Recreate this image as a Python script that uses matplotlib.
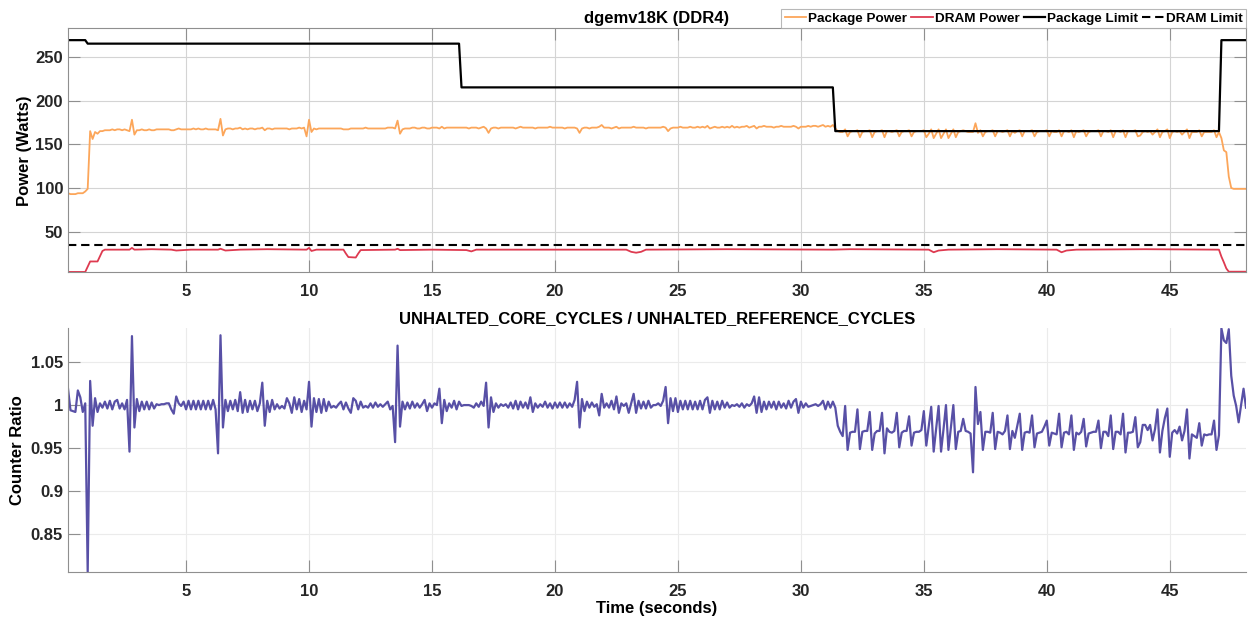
import numpy as np
import matplotlib.pyplot as plt
from matplotlib.ticker import FuncFormatter

plt.rcParams['font.family'] = ['Liberation Sans', 'DejaVu Sans']
plt.rcParams['font.weight'] = 'bold'

# counters are sampled every 0.1 s starting at 0.2 s
t_start = 0.2
t_step = 0.1

# Package power (W), one row per second
pkg_power = [
    94, 93, 93, 93, 94, 94, 94, 96,                      # 0.2 - 0.9
    99, 165, 156, 164, 162, 165, 165, 166, 166, 166,     # 1
    167, 166, 167, 167, 166, 167, 166, 165, 178, 161,    # 2
    166, 166, 167, 166, 166, 167, 166, 166, 167, 167,    # 3
    167, 167, 167, 167, 166, 166, 167, 168, 167, 167,    # 4
    167, 167, 167, 168, 167, 168, 167, 167, 168, 167,    # 5
    167, 167, 167, 166, 179, 160, 167, 168, 168, 167,    # 6
    168, 168, 169, 167, 168, 167, 168, 168, 167, 168,    # 7
    168, 169, 166, 168, 168, 167, 168, 168, 168, 168,    # 8
    168, 168, 167, 168, 168, 168, 169, 168, 169, 159,    # 9
    178, 164, 168, 167, 168, 168, 168, 168, 168, 168,    # 10
    168, 168, 168, 168, 167, 167, 167, 168, 168, 168,    # 11
    168, 168, 168, 169, 168, 168, 168, 168, 168, 168,    # 12
    168, 168, 169, 169, 169, 168, 177, 162, 167, 168,    # 13
    168, 168, 169, 169, 168, 168, 169, 169, 168, 168,    # 14
    169, 169, 169, 168, 170, 168, 169, 169, 169, 169,    # 15
    169, 169, 169, 169, 169, 168, 169, 169, 169, 168,    # 16
    169, 170, 168, 163, 168, 169, 169, 168, 169, 169,    # 17
    169, 169, 169, 169, 168, 169, 170, 169, 169, 169,    # 18
    169, 169, 168, 169, 169, 169, 169, 169, 170, 169,    # 19
    169, 169, 169, 169, 168, 169, 169, 169, 169, 168,    # 20
    163, 168, 169, 169, 168, 169, 169, 169, 170, 172,    # 21
    169, 169, 169, 168, 169, 170, 168, 169, 169, 169,    # 22
    169, 169, 170, 169, 169, 169, 169, 168, 169, 169,    # 23
    169, 169, 169, 169, 170, 169, 165, 168, 169, 169,    # 24
    169, 170, 169, 169, 169, 170, 169, 169, 170, 169,    # 25
    170, 169, 171, 168, 169, 170, 169, 169, 170, 169,    # 26
    170, 169, 171, 169, 170, 169, 170, 170, 171, 169,    # 27
    170, 171, 168, 170, 170, 171, 170, 170, 170, 169,    # 28
    170, 170, 171, 170, 170, 170, 170, 171, 170, 168,    # 29
    170, 170, 170, 171, 170, 171, 171, 170, 171, 172,    # 30
    170, 171, 170, 172, 168, 165, 164, 164, 167, 159,    # 31
    164, 165, 165, 166, 158, 164, 165, 165, 166, 158,    # 32
    164, 165, 165, 166, 158, 165, 165, 164, 165, 166,    # 33
    159, 164, 165, 165, 166, 159, 164, 165, 165, 165,    # 34
    166, 158, 162, 167, 157, 162, 167, 157, 162, 167,    # 35
    157, 162, 167, 158, 164, 165, 166, 165, 164, 164,    # 36
    164, 174, 163, 166, 159, 164, 165, 165, 166, 159,    # 37
    165, 165, 164, 165, 166, 159, 165, 163, 165, 166,    # 38
    159, 165, 165, 165, 166, 159, 164, 165, 165, 165,    # 39
    166, 159, 165, 164, 164, 166, 159, 165, 165, 164,    # 40
    166, 158, 165, 164, 165, 166, 159, 164, 165, 165,    # 41
    165, 166, 159, 165, 165, 164, 166, 158, 165, 165,    # 42
    164, 166, 158, 165, 165, 165, 166, 159, 160, 164,    # 43
    165, 164, 165, 161, 164, 167, 158, 164, 165, 167,    # 44
    157, 164, 165, 164, 165, 161, 164, 167, 157, 164,    # 45
    164, 164, 166, 159, 164, 164, 164, 164, 166, 158,    # 46
    164, 157, 143, 141, 113, 100, 99, 99, 99, 99,        # 47
    99, 99,                                              # 48.0 - 48.1
]

# core / reference cycle ratio, as thousandths away from 1
ratio_milli = [
    19, -6, -7, -8, 17, 9, -8, 2,                        # 0.2 - 0.9
    -194, 28, -24, 8, -8, 2, -3, 4, -4, 5,               # 1
    -5, 4, 6, -4, 2, -5, 6, -54, 80, -26,                # 2
    7, -7, 4, -5, 4, -5, 3, -4, 1, 0,                    # 3
    1, 1, 2, 2, -5, -10, 10, 2, -1, 4,                   # 4
    -5, 5, -5, 5, -5, 5, -5, 5, -5, 5,                   # 5
    -5, 6, -5, -56, 81, -26, 6, -7, 5, -5,               # 6
    6, -7, 15, -9, 6, -8, 5, -5, 5, -7,                  # 7
    2, 26, -24, 5, -8, 6, -5, 1, -4, -1,                 # 8
    -4, 8, 2, -9, 9, -5, 7, -8, 5, -5,                   # 9
    27, -25, 8, -8, 7, -9, 7, -7, 4, -3,                 # 10
    -1, -3, 1, 4, -5, 3, -4, -9, 8, 5,                   # 11
    -5, 4, -3, -1, -3, 2, -3, 3, -2, 1,                  # 12
    -2, 1, 4, -5, -1, -43, 69, -25, 4, -5,               # 13
    3, -4, 4, -3, 2, -3, 1, 6, -7, 2,                    # 14
    -3, 2, 0, 19, -21, 6, -7, 2, -3, 5,                  # 15
    -5, 4, -1, 0, 0, 0, -1, -3, 2, -2,                   # 16
    4, -1, 26, -26, 9, -8, 2, -3, 1, -1,                 # 17
    1, -3, 3, -4, 5, -5, 4, -3, 3, -4,                   # 18
    9, -8, 2, -3, 1, -2, 4, -3, 2, -4,                   # 19
    3, -3, 3, -3, 3, -3, 2, -2, 6, 27,                   # 20
    -26, 7, -7, 4, -3, 3, -2, 1, -12, 13,                # 21
    -3, 2, -3, 5, -5, 10, -9, 2, -1, 2,                  # 22
    -9, 2, 13, -9, 5, -4, 4, -4, 5, -3,                  # 23
    0, 0, 2, -1, 5, 21, -21, 8, -7, 8,                   # 24
    -8, 5, -5, 5, -5, 5, -5, 4, -5, 5,                   # 25
    -5, 6, 9, -9, 5, -5, 4, -5, 5, -3,                   # 26
    3, -3, 0, -1, 1, -2, 2, -3, 1, -1,                   # 27
    2, 10, -9, 9, -8, 4, -5, 4, -3, 4,                   # 28
    -5, 4, -3, 2, -4, 5, -3, 4, 7, -9,                   # 29
    4, -3, 2, -2, -1, 0, 1, -1, 1, 5,                    # 30
    -5, 4, -3, 4, -3, -24, -31, -36, -1, -52,            # 31
    -32, -31, -31, -5, -51, -31, -30, -30, -8, -52,      # 32
    -33, -30, -30, -9, -56, -27, -31, -32, -30, -9,      # 33
    -49, -32, -30, -30, -13, -47, -32, -31, -31, -29,    # 34
    -7, -47, -25, -2, -54, -28, -1, -54, -28, 0,         # 35
    -52, -26, 0, -51, -31, -30, -16, -30, -31, -33,      # 36
    -78, 21, -22, -8, -52, -31, -31, -32, -9, -51,       # 37
    -31, -32, -34, -30, -12, -51, -30, -38, -24, -10,    # 38
    -52, -32, -31, -32, -12, -49, -33, -32, -31, -25,    # 39
    -18, -47, -32, -33, -34, -10, -49, -32, -31, -34,    # 40
    -12, -52, -32, -34, -31, -16, -48, -33, -32, -31,    # 41
    -31, -18, -50, -31, -31, -36, -12, -51, -31, -31,    # 42
    -34, -10, -55, -32, -32, -31, -14, -49, -43, -23,    # 43
    -23, -29, -23, -41, -28, -5, -55, -30, -15, -4,      # 44
    -60, -32, -29, -33, -25, -41, -30, -5, -62, -34,     # 45
    -36, -38, -21, -47, -34, -35, -34, -34, -18, -52,    # 46
    -35, 89, 75, 72, 88, 34, 11, -1, -20, 0,             # 47
    19, -3,                                              # 48.0 - 48.1
]

# DRAM power (W), read at the points where it changes
dram_t = [0.2, 0.9, 1.0, 1.1, 1.4, 1.5, 1.6, 1.7, 2.7, 2.8, 2.9, 3.6, 4.4, 4.6,
          5.2, 6.3, 6.4, 6.6, 7.2, 8.3, 9.9, 10.0, 10.1, 10.3, 11.4, 11.5, 11.6,
          11.9, 12.0, 12.1, 13.5, 13.6, 13.7, 15.0, 16.4, 16.6, 16.8, 19.5,
          22.9, 23.1, 23.3, 23.5, 23.7, 27.0, 31.3, 32.0, 35.2, 35.4, 35.6,
          36.0, 38.0, 40.4, 40.6, 40.8, 41.2, 44.0, 47.0, 47.1, 47.2, 47.3,
          47.4, 48.1]
dram_w = [4, 4, 10, 16, 16, 22, 28, 29.5, 29.5, 31.5, 29.5, 30, 29.5, 28.5,
          29.5, 29.5, 30.5, 28.5, 29.5, 30, 29.5, 31.5, 28, 29.5, 29.5, 25, 21,
          20.5, 25, 29, 29.5, 30.5, 29, 29.5, 29, 27.5, 29.5, 29.5,
          29.5, 27, 26, 27, 29.5, 30, 29.5, 30, 29.5, 26.5, 28.5,
          29.5, 30, 29.5, 26.5, 28.5, 29.5, 30, 29.5, 21.5, 15, 8,
          4.3, 4.3]

# power limits (W)
pkg_limit_t = [0.2, 0.9, 1.0, 16.1, 16.2, 31.3, 31.4, 47.0, 47.1, 48.1]
pkg_limit_w = [269, 269, 265, 265, 215, 215, 165, 165, 269, 269]
dram_limit_w = 35

t = t_start + t_step * np.arange(len(pkg_power))
ratio = 1 + np.array(ratio_milli) / 1000.0

axis_grey = '#8f8f8f'
tick_len = 8.3

fig = plt.figure(figsize=(12.48, 6.2), dpi=100)
ax1 = fig.add_axes([0.0545, 0.5608, 0.9439, 0.3935])
ax2 = fig.add_axes([0.0545, 0.0769, 0.9439, 0.3935])

# Top panel: power
ax1.plot(t, pkg_power, color='#FCA65A', lw=1.3, label='Package Power')
ax1.plot(dram_t, dram_w, color='#DE3A50', lw=1.3, label='DRAM Power')
ax1.plot(pkg_limit_t, pkg_limit_w, color='black', lw=1.6, label='Package Limit')
ax1.axhline(dram_limit_w, color='black', lw=1.5, dashes=(4, 2.3), label='DRAM Limit')
ax1.set_xlim(t_start, t[-1])
ax1.set_ylim(3.6, 282.5)
ax1.set_xticks([5, 10, 15, 20, 25, 30, 35, 40, 45])
ax1.set_yticks([50, 100, 150, 200, 250])
ax1.set_ylabel('Power (Watts)', fontsize=12, fontweight='bold')
ax1.yaxis.set_label_coords(-0.0306, 0.5)
ax1.set_title('dgemv18K (DDR4)', fontsize=12, fontweight='bold', pad=3.8)
ax1.grid(True, color='#d4d4d4', lw=0.8)
ax1.tick_params(direction='in', length=tick_len, width=0.8, color=axis_grey,
                labelcolor='#262626', labelsize=12, top=True, right=True)
ax1.tick_params(axis='x', pad=8.4)
ax1.tick_params(axis='y', pad=3.6)
for s in ax1.spines.values():
    s.set_color(axis_grey)
    s.set_linewidth(0.8)
leg = ax1.legend(loc='lower right', bbox_to_anchor=(1, 1), ncol=4, frameon=True,
                 fancybox=False, edgecolor='#a6a6a6', fontsize=9.7,
                 handlelength=1.6, handletextpad=0.15, columnspacing=0.3,
                 borderpad=0.25, borderaxespad=0)
leg.get_frame().set_linewidth(0.8)

# Bottom panel: counter ratio
ax2.plot(t, ratio, color='#5850A6', lw=1.6)
ax2.set_xlim(t_start, t[-1])
ax2.set_ylim(0.806, 1.089)
ax2.set_xticks([5, 10, 15, 20, 25, 30, 35, 40, 45])
ax2.set_yticks([0.85, 0.9, 0.95, 1.0, 1.05])
ax2.yaxis.set_major_formatter(FuncFormatter(lambda v, p: '%g' % v))
ax2.set_ylabel('Counter Ratio', fontsize=12, fontweight='bold')
ax2.yaxis.set_label_coords(-0.0365, 0.5)
ax2.set_xlabel('Time (seconds)', fontsize=12, fontweight='bold')
ax2.xaxis.set_label_coords(0.5, -0.118)
ax2.set_title('UNHALTED_CORE_CYCLES / UNHALTED_REFERENCE_CYCLES',
              fontsize=12, fontweight='bold', pad=4)
ax2.grid(True, color='#ebebeb', lw=0.8)
ax2.tick_params(direction='in', length=tick_len, width=0.8, color=axis_grey,
                labelcolor='#262626', labelsize=12)
ax2.tick_params(axis='x', pad=8.4)
ax2.tick_params(axis='y', pad=3.6)
for side in ['top', 'right']:
    ax2.spines[side].set_visible(False)
for side in ['left', 'bottom']:
    ax2.spines[side].set_color(axis_grey)
    ax2.spines[side].set_linewidth(0.8)

for ax in (ax1, ax2):
    ax.set_axisbelow(True)

fig.savefig('out.png', dpi=100, facecolor='white')
